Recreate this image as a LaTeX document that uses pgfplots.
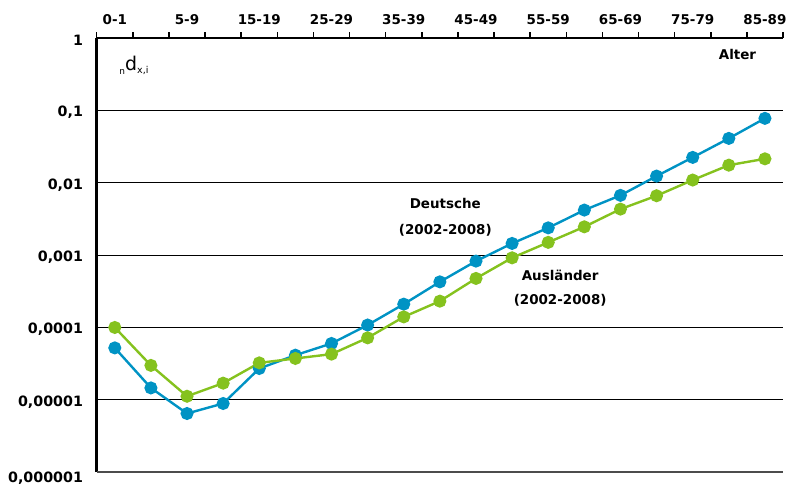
\documentclass[border=0pt]{standalone}
\usepackage{pgfplots}
\pgfplotsset{compat=1.18}
\usepackage{fontspec}
\setmainfont{DejaVu Sans}
\definecolor{deblue}{RGB}{0,147,196}
\definecolor{augreen}{RGB}{133,194,30}

\begin{document}
\begin{tikzpicture}
\begin{axis}[
  scale only axis,
  width=686bp, height=434bp,
  ymode=log,
  xmin=-0.5, xmax=18.5,
  ymin=1e-6, ymax=1,
  axis x line*=top,
  axis y line*=left,
  axis line style={line width=2bp},
  y axis line style={line width=2.8bp},
  xtick={0,2,...,18},
  xticklabels={0-1,5-9,15-19,25-29,35-39,45-49,55-59,65-69,75-79,85-89},
  minor xtick={-0.5,0.5,...,18.5},
  major x tick style={draw=none},
  minor x tick style={line width=1.5bp, black},
  minor tick length=6bp,
  tick align=outside,
  ytick={1e-5,1e-4,1e-3,1e-2,1e-1,1},
  yticklabels={{0{,}00001},{0{,}0001},{0{,}001},{0{,}01},{0{,}1},{1}},
  extra y ticks={1e-6},
  extra y tick labels={{0{,}000001}},
  extra y tick style={
    grid style={line width=2bp, black!70},
    yticklabel style={yshift=-4bp}},
  yminorticks=false,
  ytick style={draw=none},
  ymajorgrids,
  grid style={line width=1bp, black},
  xticklabel style={font=\fontsize{13.5}{16}\selectfont\bfseries, yshift=6bp},
  yticklabel style={font=\fontsize{14.3}{16}\selectfont\bfseries, xshift=-6bp, yshift=-2bp},
  clip=false,
]
\addplot[deblue, line width=2.4bp, mark=*, mark size=5.3bp,
  mark options={solid, fill=deblue, draw=none}] coordinates {
  (0,5.22e-5) (1,1.46e-5) (2,6.47e-6) (3,8.9e-6) (4,2.71e-5)
  (5,4.14e-5) (6,6.01e-5) (7,1.08e-4) (8,2.10e-4) (9,4.27e-4)
  (10,8.26e-4) (11,1.45e-3) (12,2.38e-3) (13,4.19e-3) (14,6.69e-3)
  (15,0.01236) (16,0.0224) (17,0.0410) (18,0.0776)
};
\addplot[augreen, line width=2.4bp, mark=*, mark size=5.3bp,
  mark options={solid, fill=augreen, draw=none}] coordinates {
  (0,1.0e-4) (1,2.99e-5) (2,1.12e-5) (3,1.70e-5) (4,3.24e-5)
  (5,3.73e-5) (6,4.28e-5) (7,7.19e-5) (8,1.40e-4) (9,2.31e-4)
  (10,4.76e-4) (11,9.17e-4) (12,1.50e-3) (13,2.46e-3) (14,4.32e-3)
  (15,6.61e-3) (16,0.0109) (17,0.0175) (18,0.0214)
};
\node[align=center, font=\fontsize{13.5}{26}\selectfont\bfseries]
  at (axis cs:9.15,3.3e-3) {Deutsche\\(2002-2008)};
\node[align=center, font=\fontsize{13.5}{24}\selectfont\bfseries]
  at (axis cs:12.33,3.5e-4) {Ausländer\\(2002-2008)};
\node[font=\fontsize{13.5}{16}\selectfont\bfseries]
  at (axis cs:17.24,0.6) {Alter};
\node[font=\fontsize{19}{20}\selectfont]
  at (axis cs:0.53,0.42) {\raisebox{-0.45ex}{\fontsize{9}{10}\selectfont n}d\raisebox{-0.35ex}{\fontsize{9.5}{10}\selectfont x,i}};
\end{axis}
\path (current axis.south west) ++(-96.7bp,-11bp) rectangle
  ([xshift=10bp,yshift=38bp]current axis.north east);
\end{tikzpicture}
\end{document}
